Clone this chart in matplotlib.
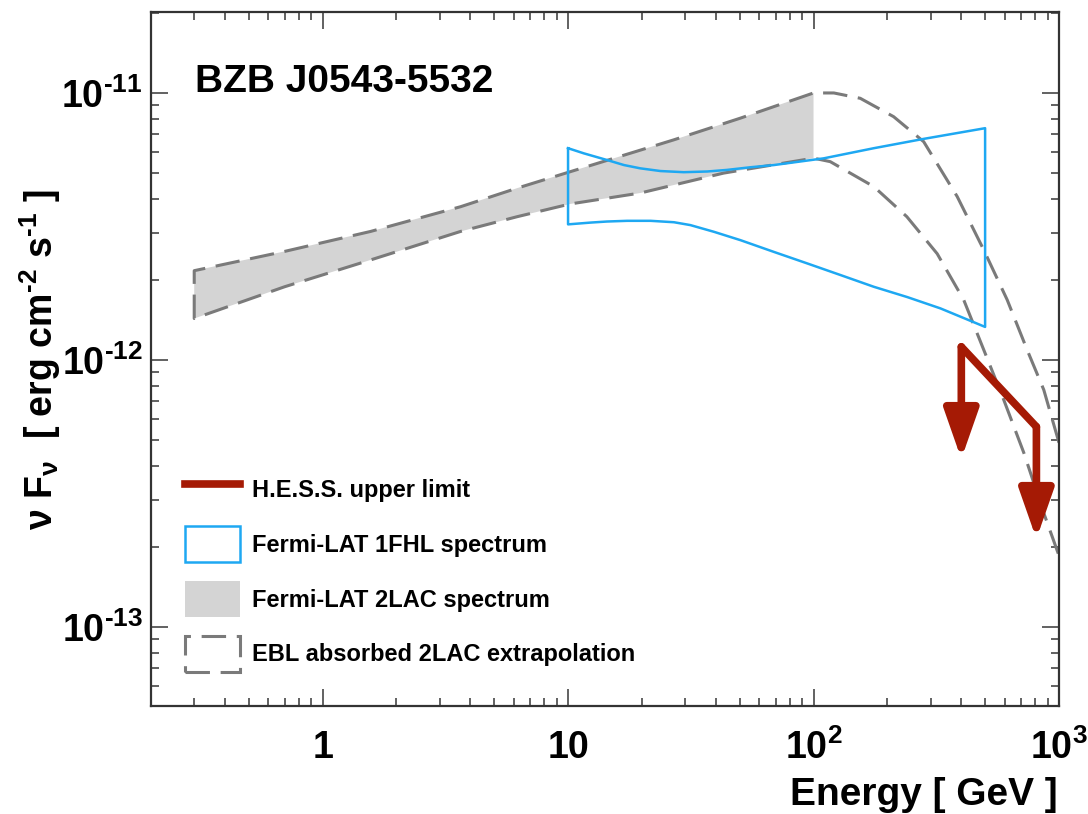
import numpy as np
import matplotlib
matplotlib.use("Agg")
import matplotlib.pyplot as plt
from matplotlib.lines import Line2D
from matplotlib.patches import Patch
from matplotlib.ticker import FixedLocator, FixedFormatter, LogLocator, NullFormatter

plt.rcParams.update({
    "font.family": "Liberation Sans",
    "font.weight": "bold",
    "mathtext.fontset": "custom",
    "mathtext.rm": "Liberation Sans:bold",
    "mathtext.it": "Liberation Sans:bold",
    "mathtext.bf": "Liberation Sans:bold",
    "mathtext.default": "bf",
})

# Fermi-LAT 2LAC butterfly, upper and lower edges (GeV, erg cm^-2 s^-1)
lac_e_up = [0.3, 0.7, 1.57, 3.65, 6.2, 10.2, 26.9, 50.4, 100]
lac_f_up = [2.16e-12, 2.55e-12, 3.03e-12, 3.75e-12, 4.40e-12, 5.07e-12, 6.67e-12, 8.05e-12, 1.0e-11]
lac_e_lo = [0.3, 0.7, 1.57, 3.65, 6.2, 10.2, 19.7, 43, 100]
lac_f_lo = [1.43e-12, 1.88e-12, 2.37e-12, 3.03e-12, 3.44e-12, 3.84e-12, 4.22e-12, 5.01e-12, 5.7e-12]

# EBL absorbed extrapolation of both edges above 100 GeV
ebl_e_up = [121, 155, 212, 281, 385, 494, 615, 742, 867, 1000]
ebl_f_up = [1.0e-11, 9.55e-12, 8.15e-12, 6.57e-12, 4.09e-12, 2.58e-12, 1.68e-12, 1.09e-12, 7.73e-13, 4.9e-13]
ebl_e_lo = [117, 176, 240, 319, 409, 494, 596, 719, 867, 1000]
ebl_f_lo = [5.53e-12, 4.46e-12, 3.44e-12, 2.5e-12, 1.68e-12, 1.09e-12, 7.08e-13, 4.49e-13, 2.67e-13, 1.85e-13]

# Fermi-LAT 1FHL butterfly
fhl_e_up = [10, 11.6, 14.4, 16.9, 19.7, 23.8, 29.6, 36.9, 44.4, 55.4, 68.9, 110, 176, 281, 500]
fhl_f_up = [6.21e-12, 5.94e-12, 5.61e-12, 5.37e-12, 5.22e-12, 5.10e-12, 5.05e-12, 5.08e-12,
            5.15e-12, 5.27e-12, 5.37e-12, 5.69e-12, 6.21e-12, 6.73e-12, 7.38e-12]
fhl_e_lo = [10, 12.35, 14.4, 17.4, 21.7, 27.0, 31.5, 39.3, 50.4, 68.9, 94.2, 128.8, 176, 241, 329, 500]
fhl_f_lo = [3.22e-12, 3.27e-12, 3.30e-12, 3.32e-12, 3.32e-12, 3.28e-12, 3.20e-12, 3.02e-12,
            2.81e-12, 2.54e-12, 2.30e-12, 2.08e-12, 1.88e-12, 1.72e-12, 1.56e-12, 1.33e-12]

# H.E.S.S. upper limits
hess_e = [400, 809]
hess_f = [1.12e-12, 5.62e-13]

RED = "#a51a05"
BLUE = "#1ea8f2"
GREY = "#7a7a7a"
FILL = "#d4d4d4"
DASH = (0, (8, 3.5))
HY = "\u2010"

fig = plt.figure(figsize=(10.88, 8.14), dpi=100)
ax = fig.add_axes([151 / 1088, 1 - 706 / 814, 908 / 1088, 694 / 814])
ax.set_xscale("log")
ax.set_yscale("log")
ax.set_xlim(0.2, 1000)
ax.set_ylim(5.06e-14, 2.01e-11)

# 2LAC band
ax.fill(np.concatenate([lac_e_up, lac_e_lo[::-1]]),
        np.concatenate([lac_f_up, lac_f_lo[::-1]]),
        color=FILL, lw=0, zorder=1)

# dashed edges: upper edge right-to-left, down the 0.3 GeV side, lower edge left-to-right
dash_e = np.concatenate([ebl_e_up[::-1], lac_e_up[::-1], lac_e_lo, ebl_e_lo])
dash_f = np.concatenate([ebl_f_up[::-1], lac_f_up[::-1], lac_f_lo, ebl_f_lo])
ax.plot(dash_e, dash_f, color=GREY, lw=2.2, linestyle=DASH, zorder=2)

# 1FHL butterfly outline
fhl_e = np.concatenate([fhl_e_up, fhl_e_lo[::-1], fhl_e_up[:1]])
fhl_f = np.concatenate([fhl_f_up, fhl_f_lo[::-1], fhl_f_up[:1]])
ax.plot(fhl_e, fhl_f, color=BLUE, lw=1.8, zorder=3)

# H.E.S.S. upper limits with downward arrows
drop = 10 ** -0.42
ax.plot(hess_e, hess_f, color=RED, lw=5.5, solid_capstyle="round",
        solid_joinstyle="miter", zorder=4)
for e, f in zip(hess_e, hess_f):
    ax.annotate("", xy=(e, f * drop), xytext=(e, f),
                arrowprops=dict(arrowstyle="-|>,head_length=30,head_width=10.5",
                                mutation_scale=1, color=RED, lw=5.5,
                                shrinkA=0, shrinkB=0),
                zorder=4)

ax.text(0.0485, 0.885, "BZB J0543-5532", transform=ax.transAxes,
        fontsize=28, va="baseline", ha="left")

# axes styling
for sp in ax.spines.values():
    sp.set_linewidth(1.6)
    sp.set_color("#333333")
ax.xaxis.set_major_locator(FixedLocator([1, 10, 100, 1000]))
ax.xaxis.set_major_formatter(FixedFormatter(["1", "10", "$10^{2}$", "$10^{3}$"]))
ax.yaxis.set_major_locator(FixedLocator([1e-13, 1e-12, 1e-11]))
ax.yaxis.set_major_formatter(FixedFormatter(
    ["$10^{%s13}$" % HY, "$10^{%s12}$" % HY, "$10^{%s11}$" % HY]))
ax.xaxis.set_minor_locator(LogLocator(base=10, subs=np.arange(2, 10), numticks=20))
ax.yaxis.set_minor_locator(LogLocator(base=10, subs=np.arange(2, 10), numticks=20))
ax.xaxis.set_minor_formatter(NullFormatter())
ax.yaxis.set_minor_formatter(NullFormatter())
ax.tick_params(which="both", direction="in", top=True, right=True,
               color="#555555", width=1.3, labelsize=27)
ax.tick_params(which="major", length=12)
ax.tick_params(which="minor", length=6)
ax.tick_params(axis="x", which="major", pad=17)
ax.tick_params(axis="y", which="major", pad=6)

fig.text(1058 / 1088, 1 - 805 / 814, "Energy [ GeV ]", fontsize=28,
         ha="right", va="baseline")
fig.text(40 / 1088, 1 - 360 / 814,
         r"$\nu$ F$_{\nu}$  [ erg cm$^{%s2}$ s$^{%s1}$ ]" % (HY, HY),
         fontsize=27, rotation=90, ha="center", va="center")

handles = [
    Line2D([], [], color=RED, lw=5.5),
    Patch(facecolor="none", edgecolor=BLUE, lw=1.8),
    Patch(facecolor=FILL, edgecolor="none"),
    Patch(facecolor="none", edgecolor=GREY, lw=2.2, linestyle=DASH),
]
labels = ["H.E.S.S. upper limit", "Fermi-LAT 1FHL spectrum",
          "Fermi-LAT 2LAC spectrum", "EBL absorbed 2LAC extrapolation"]
ax.legend(handles, labels, loc="upper left", bbox_to_anchor=(0.0374, 0.3378),
          frameon=False, fontsize=17, handlelength=2.33, handleheight=1.96,
          labelspacing=0.80, handletextpad=0.5, borderpad=0, borderaxespad=0)

fig.savefig("out.png", dpi=100)
